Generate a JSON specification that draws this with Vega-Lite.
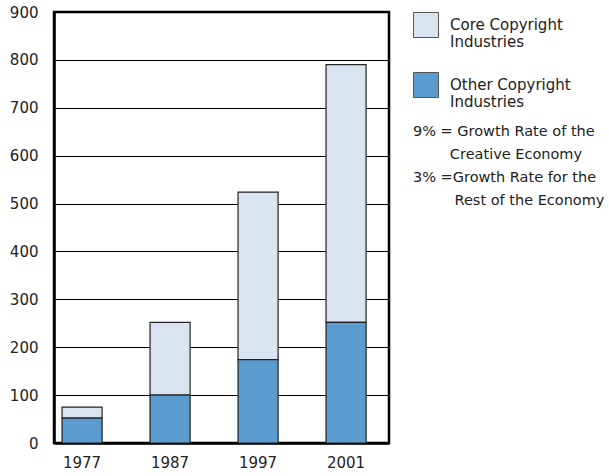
{
  "$schema": "https://vega.github.io/schema/vega-lite/v6.json",
  "autosize": "none",
  "padding": {"left": 54, "top": 12, "right": 220, "bottom": 33},
  "width": 335,
  "height": 431,
  "background": "white",
  "config": {
    "font": "DejaVu Sans",
    "view": {"stroke": "black", "strokeWidth": 2.5}
  },
  "data": {
    "values": [
      {"year": "1977", "category": "Core Copyright Industries", "value": 23},
      {"year": "1977", "category": "Other Copyright Industries", "value": 52},
      {"year": "1987", "category": "Core Copyright Industries", "value": 152},
      {"year": "1987", "category": "Other Copyright Industries", "value": 100},
      {"year": "1997", "category": "Core Copyright Industries", "value": 350},
      {"year": "1997", "category": "Other Copyright Industries", "value": 174},
      {"year": "2001", "category": "Core Copyright Industries", "value": 538},
      {"year": "2001", "category": "Other Copyright Industries", "value": 252}
    ]
  },
  "mark": {"type": "bar", "stroke": "#222", "strokeWidth": 1.2},
  "encoding": {
    "x": {
      "field": "year",
      "type": "nominal",
      "scale": {"paddingInner": 0.545, "paddingOuter": 0.176, "align": 0.26},
      "axis": {
        "title": null,
        "labelAngle": 0,
        "labelFontSize": 15,
        "labelColor": "#222",
        "labelPadding": 12,
        "ticks": false,
        "domainColor": "black",
        "domainWidth": 2.5
      }
    },
    "y": {
      "field": "value",
      "type": "quantitative",
      "aggregate": "sum",
      "stack": "zero",
      "scale": {"domain": [0, 900], "nice": false},
      "axis": {
        "title": null,
        "values": [0, 100, 200, 300, 400, 500, 600, 700, 800, 900],
        "labelFontSize": 15,
        "labelColor": "#222",
        "labelPadding": 16,
        "ticks": false,
        "domainColor": "black",
        "domainWidth": 2.5,
        "grid": true,
        "gridColor": "black",
        "gridWidth": 1.2,
        "gridOpacity": 1
      }
    },
    "color": {
      "field": "category",
      "type": "nominal",
      "scale": {
        "domain": ["Core Copyright Industries", "Other Copyright Industries"],
        "range": ["#d9e4f0", "#5a9bd0"]
      },
      "legend": {
        "orient": "none",
        "legendX": 359,
        "legendY": 0,
        "symbolType": "square",
        "symbolSize": 625,
        "symbolStrokeColor": "#555",
        "symbolStrokeWidth": 1,
        "symbolOpacity": 1,
        "labelFontSize": 15,
        "labelColor": "#222",
        "labelOffset": 11,
        "labelLimit": 200,
        "labelExpr": "[replace(datum.label, ' Industries', ''), 'Industries']",
        "rowPadding": 20,
        "title": ["9% = Growth Rate of the", "\u200b\u00a0\u00a0\u00a0\u00a0\u00a0\u00a0\u00a0\u00a0Creative Economy", "3% =Growth Rate for the", "\u200b\u00a0\u00a0\u00a0\u00a0\u00a0\u00a0\u00a0\u00a0\u00a0Rest of the Economy"],
        "titleOrient": "bottom",
        "titleAnchor": "start",
        "titleFontSize": 14.5,
        "titleFontWeight": "normal",
        "titleColor": "#222",
        "titleLineHeight": 23,
        "titlePadding": 15,
        "titleLimit": 300
      }
    },
    "order": {"field": "category", "sort": "descending"}
  }
}
